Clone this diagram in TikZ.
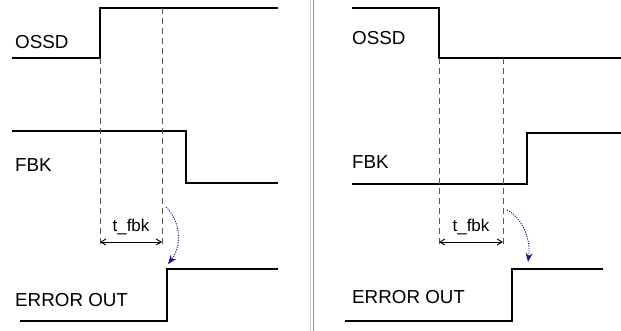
\documentclass[tikz,border=0pt]{standalone}
\usepackage{fontspec}
\setmainfont{Liberation Sans}
\usetikzlibrary{arrows.meta}
\definecolor{dashc}{HTML}{3F6262}
\definecolor{navy}{HTML}{1A1A8C}
\tikzset{
  sig/.style={line width=2.7pt, line join=miter},
  guide/.style={draw=dashc, line width=0.8pt, dash pattern=on 6pt off 4pt},
  lbl/.style={anchor=west, inner sep=0pt, font=\fontsize{18.8}{22}\selectfont},
  tlbl/.style={inner sep=0pt, font=\fontsize{17}{19}\selectfont},
  dim/.style={line width=0.9pt, {Straight Barb[length=5pt,width=6pt]}-{Straight Barb[length=5pt,width=6pt]}},
  cause/.style={draw=navy, line width=0.9pt, dash pattern=on 1.2pt off 1.2pt, -{Stealth[length=9pt,width=7pt]}},
  sep/.style={line width=1pt}
}
\begin{document}
\begin{tikzpicture}[x=1pt,y=-1pt]
\useasboundingbox (0,0) rectangle (621,331);
% separator
\draw[sep, draw=black!20] (310,0) -- (310,331);
\draw[sep, draw=black!45] (313,0) -- (313,331);

% ---------- left panel ----------
\node[lbl] (lossd) at (15,42) {OSSD};
\node[lbl] (lfbk) at (15,165) {FBK};
\node[lbl] (lerr) at (15,300) {ERROR OUT};
\draw[sig] (12,58) -- (100,58) -- (100,8) -- (278,8);
\draw[sig] (12,131) -- (186,131) -- (186,183) -- (278,183);
\draw[sig] (20,321) -- (167,321) -- (167,269) -- (278,269);
\coordinate (la1) at (100,58); \coordinate (la2) at (100,245);
\coordinate (lb1) at (162,8);  \coordinate (lb2) at (162,245);
\draw[guide] (la1) -- (la2);
\draw[guide] (lb1) -- (lb2);
\coordinate (ld1) at (100,242); \coordinate (ld2) at (162,242);
\draw[dim] (ld1) -- (ld2);
\node[tlbl] (lt) at (131,227) {t\_fbk};
\coordinate (lc1) at (166,207); \coordinate (lc2) at (168,264);
\draw[cause] (lc1) .. controls (181,222) and (182,246) .. (lc2);

% ---------- right panel ----------
\node[lbl] (rossd) at (352,38) {OSSD};
\node[lbl] (rfbk) at (352,162) {FBK};
\node[lbl] (rerr) at (352,297) {ERROR OUT};
\draw[sig] (352,8) -- (439,8) -- (439,58) -- (621,58);
\draw[sig] (352,184) -- (527,184) -- (527,133) -- (621,133);
\draw[sig] (345,321) -- (512,321) -- (512,269) -- (603,269);
\coordinate (ra1) at (439,58); \coordinate (ra2) at (439,245);
\coordinate (rb1) at (503,58); \coordinate (rb2) at (503,245);
\draw[guide] (ra1) -- (ra2);
\draw[guide] (rb1) -- (rb2);
\coordinate (rd1) at (439,242); \coordinate (rd2) at (503,242);
\draw[dim] (rd1) -- (rd2);
\node[tlbl] (rt) at (471,227) {t\_fbk};
\coordinate (rc1) at (507,210); \coordinate (rc2) at (528,262);
\draw[cause] (rc1) .. controls (522,218) and (531,238) .. (rc2);
\end{tikzpicture}
\end{document}
